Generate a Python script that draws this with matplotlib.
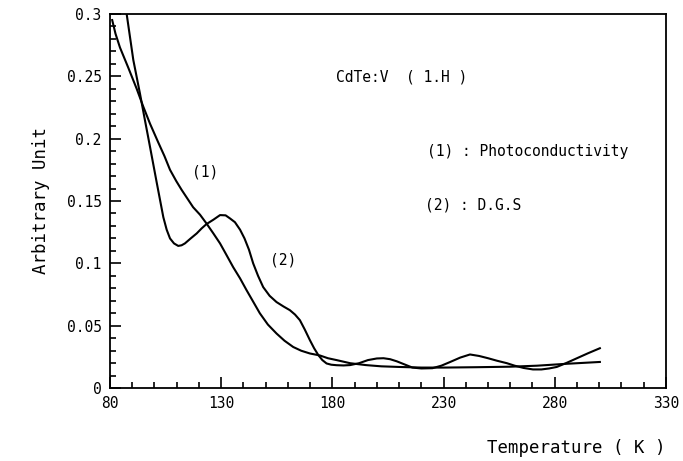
import numpy as np
import matplotlib
matplotlib.use("Agg")
import matplotlib.pyplot as plt
from matplotlib.ticker import MultipleLocator, FixedFormatter, FixedLocator

# curve (1) photoconductivity
t_pc = [81, 82.5, 84.5, 88.2, 92, 94.9, 98, 101.7, 104.5, 107, 109.8, 112.2,
        114.8, 117.4, 120.5, 123.4, 126.5, 129.5, 132, 135.4, 138.5, 141.4,
        144.5, 147.4, 151, 154.9, 158.5, 162.4, 166, 169.9, 174.4, 178,
        181.9, 188, 195, 202, 210, 220, 230, 245, 260, 272, 285, 300.3]
y_pc = [0.295, 0.284, 0.273, 0.257, 0.240, 0.226, 0.212, 0.197, 0.186, 0.175,
        0.166, 0.159, 0.152, 0.145, 0.139, 0.132, 0.124, 0.116, 0.108, 0.097,
        0.088, 0.0786, 0.069, 0.060, 0.051, 0.0438, 0.038, 0.033, 0.030,
        0.0278, 0.0262, 0.024, 0.0225, 0.020, 0.0185, 0.0175, 0.017, 0.0165,
        0.0165, 0.0168, 0.0172, 0.018, 0.0195, 0.021]

# curve (2) D.G.S
t_dgs = [86.5, 87.5, 90.5, 93.5, 95.7, 97.2, 99, 101, 102.5, 104, 105.5, 107,
         108.8, 110.7, 112.2, 113.7, 116.3, 119, 121.2, 123.4, 126.5, 129.5,
         132, 134, 136.2, 138.5, 140.5, 142.5, 144.4, 146.6, 148.9, 151.8,
         154.9, 158, 160.9, 163.2, 165.4, 167.6, 169.9, 171.8, 173.7, 175.5,
         177.4, 179.5, 181.9, 185, 188, 192, 196, 200, 203, 206, 209, 212.5,
         216, 220, 225, 229, 233, 237.5, 241.9, 246, 250, 254, 258.5, 262,
         266, 270.2, 274, 277.5, 280.9, 285, 290, 295, 300.3]
y_dgs = [0.315, 0.300, 0.263, 0.236, 0.215, 0.201, 0.184, 0.165, 0.151, 0.137,
         0.127, 0.120, 0.116, 0.114, 0.1145, 0.116, 0.120, 0.124, 0.128,
         0.1315, 0.135, 0.1387, 0.1385, 0.136, 0.133, 0.127, 0.120, 0.111,
         0.100, 0.090, 0.081, 0.074, 0.069, 0.0655, 0.0625, 0.059, 0.0545,
         0.047, 0.0385, 0.032, 0.0265, 0.0225, 0.0198, 0.0188, 0.0184, 0.0182,
         0.0185, 0.020, 0.0225, 0.0238, 0.024, 0.0232, 0.0215, 0.019, 0.0165,
         0.0158, 0.016, 0.018, 0.021, 0.0245, 0.027, 0.0258, 0.024, 0.022,
         0.020, 0.018, 0.0162, 0.015, 0.015, 0.0158, 0.017, 0.020, 0.024,
         0.028, 0.032]

xticks = [80, 130, 180, 230, 280, 330]
yticks = [0, 0.05, 0.1, 0.15, 0.2, 0.25, 0.3]
ytick_labels = ["0", "0.05", "0.1", "0.15", "0.2", "0.25", "0.3"]

plt.rcParams['font.family'] = ['DejaVu Sans Mono']

fig = plt.figure(figsize=(6.83, 4.61), dpi=100)
ax = fig.add_axes([0.161, 0.158, 0.814, 0.812])

ax.plot(t_pc, y_pc, color='black', lw=1.5)
ax.plot(t_dgs, y_dgs, color='black', lw=1.5)

ax.set_xlim(80, 330)
ax.set_ylim(0, 0.3)
ax.xaxis.set_major_locator(FixedLocator(xticks))
ax.xaxis.set_minor_locator(MultipleLocator(10))
ax.yaxis.set_major_locator(FixedLocator(yticks))
ax.yaxis.set_major_formatter(FixedFormatter(ytick_labels))
ax.yaxis.set_minor_locator(MultipleLocator(0.01))
ax.tick_params(which='both', direction='in', top=False, right=False,
               labelsize=10.5, width=1.2)
ax.tick_params(which='major', length=8, pad=6)
ax.tick_params(which='minor', length=4)
for s in ax.spines.values():
    s.set_linewidth(1.3)

ax.set_ylabel("Arbitrary Unit", fontsize=12.5, labelpad=12)
ax.set_xlabel("Temperature ( K )", fontsize=12.5, labelpad=14)
ax.xaxis.set_label_coords(1.0, -0.135)
ax.xaxis.label.set_horizontalalignment('right')

ax.text(181.5, 0.249, "CdTe:V  ( 1.H )", fontsize=10.5, va='center')
ax.text(222.5, 0.19, "(1) : Photoconductivity", fontsize=10.5, va='center')
ax.text(221.5, 0.147, "(2) : D.G.S", fontsize=10.5, va='center')
ax.text(123, 0.173, "(1)", fontsize=10.5, ha='center', va='center')
ax.text(158, 0.103, "(2)", fontsize=10.5, ha='center', va='center')

fig.savefig("out.png", dpi=100)
